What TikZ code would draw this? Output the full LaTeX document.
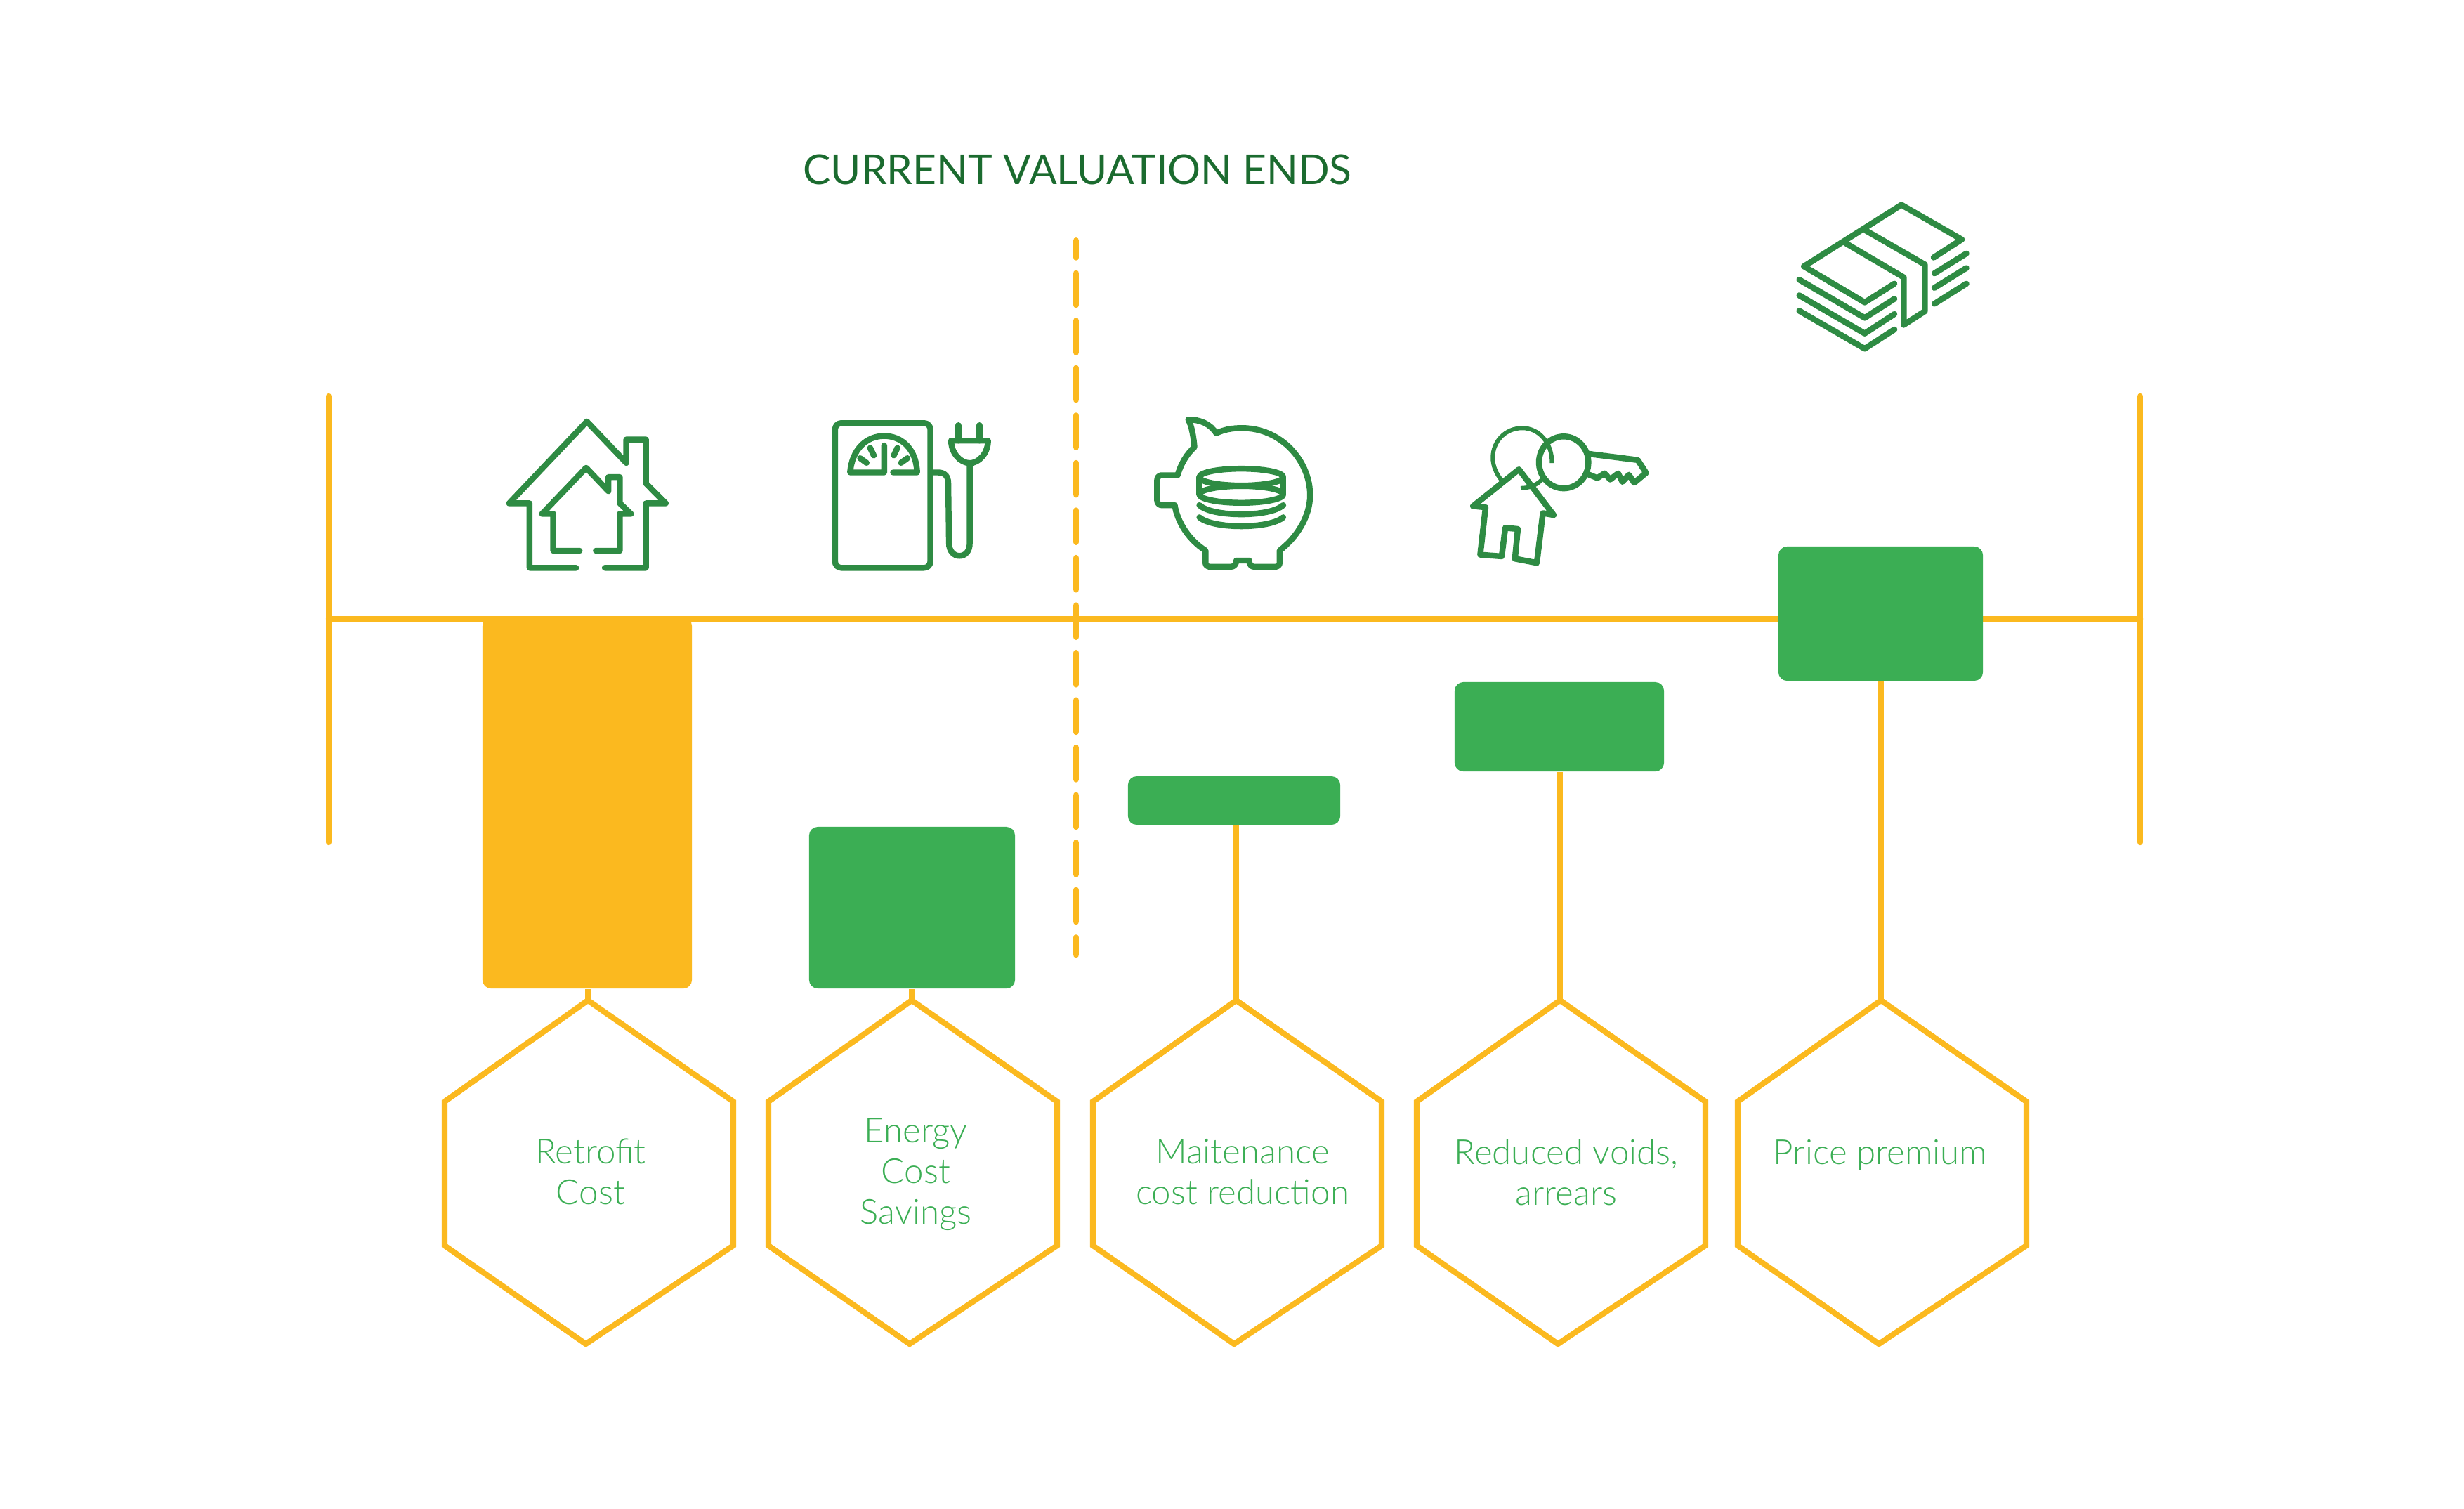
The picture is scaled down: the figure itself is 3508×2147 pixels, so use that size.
\documentclass[tikz,border=0pt]{standalone}
\usepackage{fontspec}
\setmainfont{Lato Light}
\newfontfamily\titlefont{Lato}
\usepackage{xcolor}
\definecolor{amber}{HTML}{FBB91F}
\definecolor{leaf}{HTML}{3BAE54}
\definecolor{iconleaf}{HTML}{2E8B43}
\definecolor{titleleaf}{HTML}{1B6B2F}

\newcommand{\hexcell}[2]{
\coordinate (#1) at (#2,1424);
\draw[hexline] (#1) -- ++(207,144) -- ++(0,205) -- ++(-210,140) -- ++(-201,-140) -- ++(0,-205) -- cycle;
}

\begin{document}
\begin{tikzpicture}[x=0.01cm, y=-0.01cm,
rail/.style={amber, line width=2.4pt, line cap=round},
valuationline/.style={amber, line width=2.45pt, line cap=round, dash pattern=on 0.45cm off 0.225cm, dash phase=0.21cm},
stem/.style={amber, line width=2.3pt},
hexline/.style={amber, line width=2.3pt},
costbar/.style={rectangle, fill=amber, rounded corners=3.5pt, inner sep=0pt},
gainbar/.style={rectangle, fill=leaf, rounded corners=3.5pt, inner sep=0pt},
hextext/.style={text=leaf, align=center, font=\fontsize{14}{16.5}\selectfont},
titletext/.style={text=titleleaf, font=\titlefont\fontsize{16.7}{20}\selectfont},
icon/.style={iconleaf, line width=2.4pt, line cap=round, line join=round},
iconthin/.style={iconleaf, line width=1.7pt, line cap=butt, line join=round},
dualzoom/.style={x=0.0051020cm, y=-0.0033333cm},
moneyzoom/.style={x=0.0033333cm, y=-0.0033333cm}
]

\useasboundingbox (0,0) rectangle (3508,2147);

\node[titletext] (title) at (1534,241) {CURRENT VALUATION ENDS};

\coordinate (axisL) at (468,881);
\coordinate (axisR) at (3047,881);
\coordinate (tickLtop) at (468,564);
\coordinate (tickLbot) at (468,1199);
\coordinate (tickRtop) at (3047,564);
\coordinate (tickRbot) at (3047,1199);
\coordinate (valTop) at (1532,342.4);
\coordinate (valBot) at (1532,1359);

\draw[rail] (axisL) -- (axisR);
\draw[rail] (tickLtop) -- (tickLbot);
\draw[rail] (tickRtop) -- (tickRbot);
\draw[valuationline] (valTop) -- (valBot);

\node[costbar, minimum width=2.98cm, minimum height=5.28cm] (barA) at (836,1143) {};
\node[gainbar, minimum width=2.93cm, minimum height=2.30cm] (barB) at (1298.5,1292) {};
\node[gainbar, minimum width=3.02cm, minimum height=0.69cm] (barC) at (1757,1139.5) {};
\node[gainbar, minimum width=2.98cm, minimum height=1.27cm] (barD) at (2220,1034.5) {};
\node[gainbar, minimum width=2.91cm, minimum height=1.91cm] (barE) at (2677.5,873.5) {};

\hexcell{hexA}{837}
\hexcell{hexB}{1298}
\hexcell{hexC}{1760}
\hexcell{hexD}{2221}
\hexcell{hexE}{2678}

\draw[stem] (hexA |- barA.south) -- (hexA);
\draw[stem] (hexB |- barB.south) -- (hexB);
\draw[stem] (hexC |- barC.south) -- (hexC);
\draw[stem] (hexD |- barD.south) -- (hexD);
\draw[stem] (hexE |- barE.south) -- (hexE);

\node[hextext] (textA) at (841,1668) {Retrofit\\Cost};
\node[hextext] (textB) at (1304,1672) {Energy\\Cost\\Savings};
\node[hextext] (textC) at (1769,1668) {Maitenance\\cost reduction};
\node[hextext] (textD) at (2230,1669) {Reduced voids,\\arrears};
\node[hextext] (textE) at (2677,1644) {Price premium};

\begin{scope}[shift={(680,560)}, dualzoom]
\draw[icon] (275,746) -- (145,746) -- (145,470) -- (88,470) -- (305,120) -- (415,297) -- (415,197) -- (470,197) -- (470,385) -- (525,470) -- (470,470) -- (470,746) -- (355,746);
\draw[icon] (285,673) -- (211,673) -- (211,515) -- (180,515) -- (303,318) -- (365,418) -- (365,358) -- (397,358) -- (397,470) -- (428,515) -- (397,515) -- (397,673) -- (330,673);
\draw[icon, rounded corners=2.5pt] (998,127) rectangle (1264,746);
\draw[icon] (1135,222) -- (1135,338) -- (1040,338) .. controls (1045,240) and (1085,182) .. (1135,182) .. controls (1185,182) and (1225,240) .. (1227,338) -- (1160,338);
\draw[icon] (1068,277) -- (1086,297);
\draw[icon] (1096,233) -- (1106,265);
\draw[icon] (1172,233) -- (1162,265);
\draw[icon] (1200,277) -- (1182,297);
\draw[icon] (1272,338) -- (1285,338) .. controls (1305,338) and (1314,355) .. (1314,385) -- (1316,640) .. controls (1316,675) and (1330,695) .. (1345,695) .. controls (1362,695) and (1374,675) .. (1374,640) -- (1374,300);
\draw[icon] (1322,202) -- (1425,202) .. controls (1425,255) and (1400,298) .. (1374,298) .. controls (1348,298) and (1322,255) .. (1322,202) -- cycle;
\draw[icon] (1342,136) -- (1342,202);
\draw[icon] (1401,136) -- (1401,202);
\end{scope}

\begin{scope}[shift={(1600,560)}, dualzoom]
\draw[icon] (258,170) .. controls (280,155) and (300,148) .. (330,148) .. controls (440,148) and (520,290) .. (520,435) .. controls (520,530) and (480,620) .. (435,672) -- (435,725) .. controls (435,735) and (430,742) .. (420,742) -- (365,742) .. controls (355,742) and (350,730) .. (350,715) -- (314,715) .. controls (314,730) and (308,742) .. (298,742) -- (243,742) .. controls (233,742) and (228,735) .. (228,725) -- (228,672) .. controls (180,625) and (150,550) .. (142,478) -- (105,478) .. controls (98,478) and (93,468) .. (93,458) -- (93,370) .. controls (93,360) and (98,350) .. (105,350) -- (150,350) .. controls (160,300) and (175,260) .. (197,230) .. controls (195,190) and (190,140) .. (180,112) .. controls (215,112) and (240,130) .. (258,170) -- cycle;
\draw[icon] (328,358) ellipse [x radius=117, y radius=36];
\draw[icon] (328,432) ellipse [x radius=117, y radius=36];
\draw[icon] (211,358) -- (211,432);
\draw[icon] (445,358) -- (445,432);
\draw[icon] (211,478) .. controls (230,505) and (280,517) .. (328,517) .. controls (376,517) and (425,505) .. (445,478);
\draw[icon] (211,530) .. controls (230,556) and (280,568) .. (328,568) .. controls (376,568) and (425,556) .. (445,530);
\draw[iconthin] (1055,372) .. controls (1040,345) and (1030,310) .. (1030,275) .. controls (1030,205) and (1065,148) .. (1113,148) .. controls (1160,148) and (1197,215) .. (1195,298);
\draw[iconthin] (1108,405) .. controls (1130,405) and (1150,395) .. (1168,368);
\draw[icon] (1228,295) ellipse [x radius=69, y radius=111];
\draw[icon] (1295,345) -- (1322,362) -- (1342,342) -- (1358,368) -- (1380,342) -- (1392,378) -- (1410,348) -- (1425,382) -- (1458,340) -- (1435,285) -- (1297,258);
\draw[icon] (1103,325) -- (975,482) -- (1010,487) -- (995,690) -- (1055,697) -- (1065,575) -- (1100,580) -- (1092,707) -- (1153,725) -- (1170,512) -- (1200,520) -- cycle;
\end{scope}

\begin{scope}[shift={(2520,260)}, moneyzoom]
\draw[icon] (700,320) -- (820,243) -- (562,95) -- (145,358) -- (405,512) -- (532,432);
\draw[icon] (322,258) -- (572,405) -- (572,608) -- (662,550) -- (662,350) -- (410,205);
\draw[icon] (703,388) -- (840,303);
\draw[icon] (703,450) -- (840,365);
\draw[icon] (703,518) -- (840,432);
\draw[icon] (125,415) -- (405,578) -- (532,497);
\draw[icon] (125,482) -- (405,645) -- (532,562);
\draw[icon] (125,548) -- (405,710) -- (532,628);
\end{scope}

\end{tikzpicture}
\end{document}
